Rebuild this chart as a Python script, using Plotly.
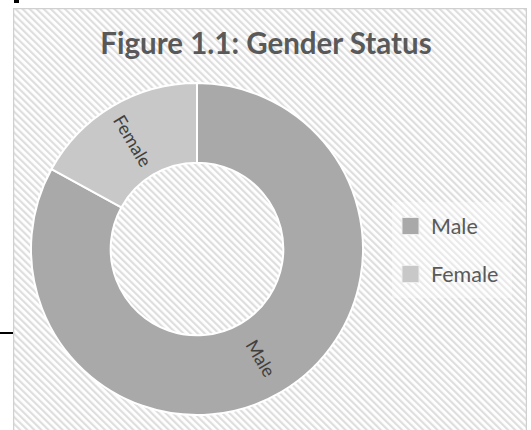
import base64
import math
import plotly.graph_objects as go

# data
labels = ["Male", "Female"]
values = [83, 17]
colors = ["#a9a9a9", "#c8c8c8"]

W, H = 531, 430
CX, CY, R_OUT, HOLE = 197, 249, 166, 0.52

# striped chart-area background (svg pattern as an inline image)
svg = f"""<svg xmlns='http://www.w3.org/2000/svg' width='514' height='430'>
<defs><pattern id='p' width='5' height='5' patternUnits='userSpaceOnUse' patternTransform='rotate(-45)'>
<rect width='5' height='5' fill='#ffffff'/><rect width='2.2' height='5' fill='#dedede'/></pattern></defs>
<rect x='0' y='0' width='514' height='430' fill='url(#p)'/>
<rect x='0.5' y='0.5' width='513' height='440' fill='none' stroke='#d0d0d0' stroke-width='1.5'/>
</svg>"""
bg = "data:image/svg+xml;base64," + base64.b64encode(svg.encode()).decode()


def px(x):
    return x / W


def py(y):
    return 1 - y / H


fig = go.Figure()

# plotly puts radial text of a >180 deg slice at 9 o'clock, so Male's label
# is added below as an annotation at the slice's mid angle
fig.add_trace(go.Pie(
    labels=labels,
    values=values,
    hole=HOLE,
    sort=False,
    direction="clockwise",
    rotation=0,
    marker=dict(colors=colors, line=dict(color="white", width=2)),
    texttemplate=["", "%{label}"],
    textposition="inside",
    insidetextorientation="radial",
    insidetextfont=dict(family="Lato", size=18, color="#404040"),
    domain=dict(x=[px(CX - R_OUT), px(CX + R_OUT)], y=[py(CY + R_OUT), py(CY - R_OUT)]),
    showlegend=False,
))

annotations = []
total = sum(values)
mid = 360 * (values[0] / 2) / total
r_mid = R_OUT * (1 + HOLE) / 2
ax = CX + r_mid * math.sin(math.radians(mid))
ay = CY - r_mid * math.cos(math.radians(mid))
annotations.append(dict(text=labels[0], xref="paper", yref="paper", x=px(ax), y=py(ay),
                        xanchor="center", yanchor="middle", showarrow=False, textangle=mid - 90,
                        font=dict(family="Lato", size=18, color="#404040")))

# legend drawn by hand so the item spacing matches
legend_y = [226, 274]
shapes = [
    dict(type="rect", xref="paper", yref="paper", x0=px(392), x1=px(512),
         y0=py(298), y1=py(202), fillcolor="rgba(255,255,255,0.35)", line_width=0, layer="below"),
    dict(type="line", xref="paper", yref="paper", x0=0, x1=px(13), y0=py(333), y1=py(333),
         line=dict(color="black", width=2)),
    dict(type="rect", xref="paper", yref="paper", x0=px(14), x1=px(19), y0=py(3), y1=1,
         fillcolor="black", line_width=0),
]
for lab, col, yc in zip(labels, colors, legend_y):
    shapes.append(dict(type="rect", xref="paper", yref="paper",
                       x0=px(402), x1=px(419), y0=py(yc + 8.5), y1=py(yc - 8.5),
                       fillcolor=col, line=dict(color="#eeeeee", width=1)))
    annotations.append(dict(text=lab, xref="paper", yref="paper", x=px(429), y=py(yc),
                            xanchor="left", yanchor="middle", showarrow=False,
                            font=dict(family="Lato", size=21.5, color="#595959")))

fig.update_layout(
    width=W, height=H,
    margin=dict(l=0, r=0, t=0, b=0),
    paper_bgcolor="white",
    title=dict(text="<b>Figure 1.1: Gender Status</b>", x=px(266), xanchor="center",
               y=py(44), yanchor="middle",
               font=dict(family="Lato", size=29.5, color="#595959")),
    images=[dict(source=bg, xref="paper", yref="paper", x=px(13), y=py(8),
                 sizex=px(514), sizey=py(8), xanchor="left", yanchor="top",
                 sizing="stretch", layer="below")],
    shapes=shapes,
    annotations=annotations,
)

fig.write_html("out.html", config={"displayModeBar": False},
               post_script="document.body.style.margin='0px';")
